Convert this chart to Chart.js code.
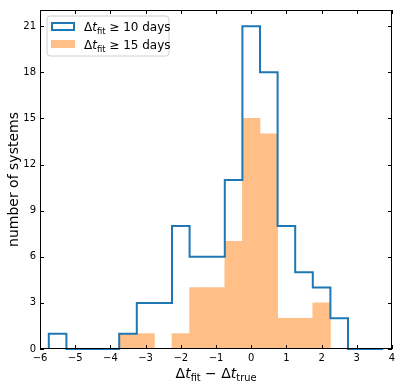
<!DOCTYPE html>
<html>
<head>
<meta charset="utf-8">
<script src="https://cdn.jsdelivr.net/npm/chart.js@4/dist/chart.umd.min.js"></script>
<style>
  html, body { margin: 0; padding: 0; background: #fff; }
  #hist { display: block; }
</style>
</head>
<body>
<canvas id="hist" width="402" height="387"></canvas>
<script>
var binCenters = [-5.5, -5, -4.5, -4, -3.5, -3, -2.5, -2, -1.5, -1, -0.5, 0, 0.5, 1, 1.5, 2, 2.5, 3, 3.5];
var countsGe10 = [1, 0, 0, 0, 1, 3, 3, 8, 6, 6, 11, 21, 18, 8, 5, 4, 2, 0, 0];
var countsGe15 = [0, 0, 0, 0, 1, 1, 0, 1, 4, 4, 7, 15, 14, 2, 2, 3, 0, 0, 0];
var xTicks = [-6, -5, -4, -3, -2, -1, 0, 1, 2, 3, 4];
var yTicks = [0, 3, 6, 9, 12, 15, 18, 21];
var binWidth = 0.5;

var FONT = "'DejaVu Sans', sans-serif";
var blue = "#1f77b4";
var orange = "#ffbf87";

// step outline (histtype step) built from the bin edges
var stepPts = [{ x: binCenters[0] - binWidth / 2, y: 0 }];
binCenters.forEach(function (c, i) {
  stepPts.push({ x: c + binWidth / 2, y: countsGe10[i] });
});
stepPts.push({ x: binCenters[binCenters.length - 1] + binWidth / 2, y: 0 });

var barPts = binCenters.map(function (c, i) {
  return { x: c, y: countsGe15[i] };
});

function minus(v) {
  return v < 0 ? "\u2212" + Math.abs(v) : "" + v;
}

// text in pieces: normal, italic, subscript
function richText(ctx, parts, x, y, size, align) {
  var w = 0;
  parts.forEach(function (p) {
    var s = p.sub ? size * 0.7 : size;
    ctx.font = (p.it ? "italic " : "") + s + "px " + FONT;
    p.w = ctx.measureText(p.t).width;
    w += p.w;
  });
  var cx = align === "center" ? x - w / 2 : x;
  ctx.textAlign = "left";
  ctx.textBaseline = "alphabetic";
  parts.forEach(function (p) {
    var s = p.sub ? size * 0.7 : size;
    ctx.font = (p.it ? "italic " : "") + s + "px " + FONT;
    ctx.fillText(p.t, cx, y + (p.sub ? size * 0.22 : 0));
    cx += p.w;
  });
}

var decor = {
  id: "decor",
  afterDraw: function (chart) {
    var ctx = chart.ctx, a = chart.chartArea;
    var xs = chart.scales.x, ys = chart.scales.y;
    ctx.save();
    ctx.fillStyle = "#000";

    // frame + inward ticks on all four sides
    ctx.strokeStyle = "#000";
    ctx.lineWidth = 1;
    ctx.strokeRect(Math.round(a.left) + 0.5, Math.round(a.top) + 0.5,
      Math.round(a.right - a.left) - 1, Math.round(a.bottom - a.top) - 1);
    ctx.beginPath();
    xTicks.forEach(function (v) {
      var px = Math.round(xs.getPixelForValue(v)) + 0.5;
      ctx.moveTo(px, a.bottom); ctx.lineTo(px, a.bottom - 4);
      ctx.moveTo(px, a.top); ctx.lineTo(px, a.top + 4);
    });
    yTicks.forEach(function (v) {
      var py = Math.round(ys.getPixelForValue(v)) + 0.5;
      ctx.moveTo(a.left, py); ctx.lineTo(a.left + 4, py);
      ctx.moveTo(a.right, py); ctx.lineTo(a.right - 4, py);
    });
    ctx.stroke();

    // axis titles
    richText(ctx, [
      { t: "\u0394" }, { t: "t", it: true }, { t: "fit", sub: true },
      { t: " \u2212 \u0394" }, { t: "t", it: true }, { t: "true", sub: true }
    ], (a.left + a.right) / 2, 378, 14, "center");

    ctx.save();
    ctx.translate(14, (a.top + a.bottom) / 2);
    ctx.rotate(-Math.PI / 2);
    ctx.font = "14px " + FONT;
    ctx.textAlign = "center";
    ctx.textBaseline = "middle";
    ctx.fillText("number of systems", 0, 0);
    ctx.restore();

    // legend
    var lx = a.left + 7, ly = a.top + 6, lw = 122, lh = 40, r = 3;
    ctx.beginPath();
    ctx.moveTo(lx + r, ly);
    ctx.arcTo(lx + lw, ly, lx + lw, ly + lh, r);
    ctx.arcTo(lx + lw, ly + lh, lx, ly + lh, r);
    ctx.arcTo(lx, ly + lh, lx, ly, r);
    ctx.arcTo(lx, ly, lx + lw, ly, r);
    ctx.closePath();
    ctx.fillStyle = "rgba(255,255,255,0.8)";
    ctx.fill();
    ctx.strokeStyle = "#d0d0d0";
    ctx.lineWidth = 1;
    ctx.stroke();

    ctx.strokeStyle = blue;
    ctx.lineWidth = 2;
    ctx.strokeRect(lx + 5, ly + 7, 22, 7);
    ctx.fillStyle = orange;
    ctx.fillRect(lx + 4, ly + 24, 24, 8);

    ctx.fillStyle = "#000";
    richText(ctx, [{ t: "\u0394" }, { t: "t", it: true }, { t: "fit", sub: true }, { t: " \u2265 10 days" }],
      lx + 37, ly + 15, 12, "left");
    richText(ctx, [{ t: "\u0394" }, { t: "t", it: true }, { t: "fit", sub: true }, { t: " \u2265 15 days" }],
      lx + 37, ly + 33, 12, "left");
    ctx.restore();
  }
};

var ctx = document.getElementById("hist").getContext("2d");
var chart = new Chart(ctx, {
  type: "bar",
  data: {
    datasets: [
      {
        type: "line",
        label: "dt >= 10 days",
        data: stepPts,
        stepped: "after",
        borderColor: blue,
        borderWidth: 2,
        pointRadius: 0,
        fill: false,
        clip: 4,
        order: 0,
      },
      {
        label: "dt >= 15 days",
        data: barPts,
        backgroundColor: orange,
        borderWidth: 0,
        barPercentage: 1,
        categoryPercentage: 1,
        order: 1,
      },
    ],
  },
  options: {
    responsive: false,
    animation: false,
    layout: { padding: { left: 0, right: 10, top: 7, bottom: 0 } },
    plugins: { legend: { display: false }, tooltip: { enabled: false } },
    scales: {
      x: {
        type: "linear",
        min: -6,
        max: 4,
        offset: false,
        grid: { display: false, drawTicks: false },
        border: { display: false },
        afterBuildTicks: function (s) {
          s.ticks = xTicks.map(function (v) { return { value: v }; });
        },
        afterFit: function (s) { s.height = 38; },
        ticks: {
          padding: 3,
          maxRotation: 0,
          color: "#000",
          font: { family: FONT, size: 10 },
          callback: function (v) { return minus(v); },
        },
      },
      y: {
        min: 0,
        max: 22.05,
        grid: { display: false, drawTicks: false },
        border: { display: false },
        afterBuildTicks: function (s) {
          s.ticks = yTicks.map(function (v) { return { value: v }; });
        },
        afterFit: function (s) { s.width = 40; },
        ticks: {
          padding: 4,
          color: "#000",
          font: { family: FONT, size: 10 },
        },
      },
    },
  },
  plugins: [decor],
});
</script>
</body>
</html>
